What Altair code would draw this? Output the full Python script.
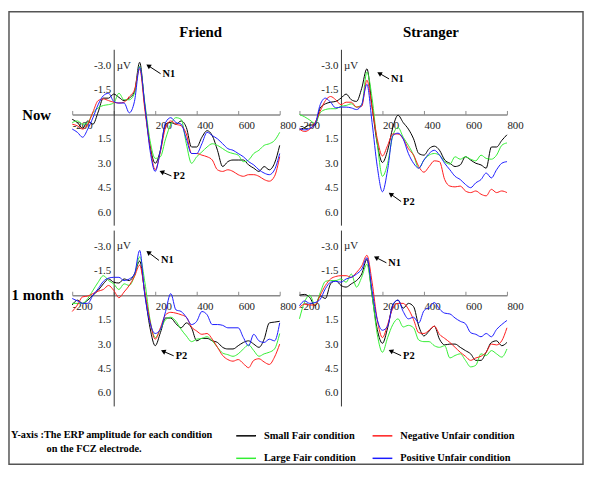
import math
import altair as alt
import pandas as pd

# ---------------- data ----------------
TIMES = list(range(-200, 801, 25))  # ms, 41 samples

# legend is laid out column by column: first column Small/Large Fair, second Negative/Positive Unfair
CONDITIONS = ["Small Fair condition", "Large Fair condition",
              "Negative Unfair condition", "Positive Unfair condition"]
COLORS = ["#000000", "#33ee33", "#ff1a1a", "#1a1aff"]

RELATIONS = ["Friend", "Stranger"]
SESSIONS = ["Now", "1 month"]

X_TICKS = [-200, 200, 400, 600, 800]
X_TICK_MARKS = [-200, 0, 200, 400, 600, 800]
Y_TICKS = [-3.0, -1.5, 1.5, 3.0, 4.5, 6.0]
UNIT = "µV"
CAPTION = ["Y-axis :The ERP amplitude for each condition", "on the FCZ electrode."]

# Friend / Now
FN_SMALL_FAIR = [0.3, 0.5, 0.85, 0.4, 0.6, -0.15, -1.0, -1.0, -1.25, -1.05, -0.85, -1.0, -1.4, -3.2, -0.5, 1.9, 3.0, 2.2, 0.6, 0.5, 0.6, 0.4, 0.8, 2.0, 2.0, 1.4, 1.0, 1.3, 2.2, 3.2, 2.9, 2.8, 2.8, 2.8, 3.1, 3.3, 3.5, 3.2, 3.4, 3.0, 1.9]
FN_NEGATIVE_UNFAIR = [0.6, 0.7, 0.9, 0.6, -0.15, -0.85, -0.95, -0.85, -0.75, -0.7, -0.75, -1.1, -1.5, -2.8, -0.3, 2.0, 3.4, 2.3, 0.8, 0.4, 0.6, 0.7, 1.2, 2.4, 2.4, 2.5, 2.6, 2.8, 3.4, 3.5, 3.4, 3.5, 3.7, 3.8, 3.7, 3.7, 3.8, 4.0, 4.1, 3.8, 2.6]
FN_LARGE_FAIR = [0.5, 0.4, 0.6, 0.5, -0.1, -0.4, -0.55, -0.6, -0.7, -1.3, -0.9, -0.9, -1.3, -2.95, -0.7, 1.6, 2.7, 2.6, 1.5, 0.6, 0.2, 0.3, 1.8, 3.0, 2.6, 2.3, 2.0, 1.8, 1.9, 2.1, 2.3, 2.4, 2.5, 2.9, 2.8, 2.4, 2.2, 1.9, 1.8, 1.6, 1.1]
FN_POSITIVE_UNFAIR = [0.9, 1.1, 1.4, 0.9, 0.2, -0.6, -1.15, -1.3, -0.8, -0.7, -0.7, -0.1, -0.8, -2.9, -0.6, 2.2, 3.5, 2.2, 0.5, 0.2, 0.5, 0.6, 1.5, 2.4, 2.4, 1.8, 1.1, 1.3, 1.5, 1.8, 2.1, 2.2, 2.4, 2.6, 2.9, 3.1, 3.4, 3.6, 3.7, 3.4, 2.4]

# Stranger / Now
SN_SMALL_FAIR = [0.95, 0.8, 0.65, 0.65, -0.4, -0.65, -0.75, -0.8, -1.0, -1.25, -0.9, -0.8, -1.6, -2.8, -0.5, 1.8, 2.95, 2.2, 0.8, 0.05, 0.5, 0.9, 1.5, 2.4, 2.5, 2.1, 1.95, 2.2, 2.8, 3.0, 3.2, 3.1, 2.6, 2.8, 3.0, 3.1, 3.3, 2.0, 2.0, 1.6, 1.25]
SN_NEGATIVE_UNFAIR = [0.9, 1.05, 0.9, 0.5, -0.2, -0.85, -1.1, -0.9, -0.6, -0.75, -0.75, -0.45, -0.5, -2.1, -0.4, 1.5, 2.55, 1.9, 1.2, 1.2, 1.5, 2.1, 2.5, 3.2, 3.55, 3.2, 2.85, 2.9, 4.0, 4.4, 4.45, 4.4, 4.7, 4.8, 4.7, 4.9, 5.0, 4.6, 4.8, 4.7, 4.8]
SN_LARGE_FAIR = [0.0, 0.15, 0.35, 0.55, -0.1, -0.3, -0.35, -0.35, -0.5, -0.55, -0.65, -0.45, -0.6, -2.6, -1.0, 1.8, 3.8, 3.0, 1.3, 0.8, 1.4, 1.9, 2.5, 3.3, 2.8, 2.5, 2.4, 2.5, 2.9, 3.05, 2.6, 2.75, 2.6, 2.75, 2.85, 2.5, 2.7, 2.75, 2.5, 1.9, 1.75]
SN_POSITIVE_UNFAIR = [0.85, 0.95, 0.85, 0.6, -0.6, -1.0, -0.75, -0.4, -0.45, -0.45, -0.4, -0.3, -0.6, -1.85, 0.5, 3.2, 4.75, 3.4, 1.3, 1.15, 1.5, 2.4, 3.0, 3.3, 2.8, 2.4, 2.2, 2.5, 3.0, 3.4, 3.8, 4.0, 4.3, 4.5, 4.2, 4.0, 3.6, 3.9, 3.4, 3.0, 2.9]

# Friend / 1 month
FM_SMALL_FAIR = [0.6, 0.3, 0.5, 0.3, 0.0, -0.3, -0.7, -1.0, -0.8, -0.75, -1.0, -0.9, -1.3, -2.1, -0.1, 2.0, 3.1, 2.3, 1.4, 1.4, 1.75, 2.0, 1.7, 2.0, 2.8, 2.65, 2.65, 2.8, 2.9, 3.2, 3.3, 3.3, 3.1, 2.9, 2.8, 3.0, 3.2, 2.7, 1.7, 1.65, 1.6]
FM_NEGATIVE_UNFAIR = [1.0, 0.6, 0.1, 0.05, -0.1, -0.25, -0.35, -0.6, -0.3, 0.15, -0.2, -0.6, -1.15, -1.85, -0.2, 1.6, 2.7, 2.0, 1.2, 1.05, 1.1, 1.2, 1.35, 1.95, 2.2, 2.4, 2.35, 2.7, 3.2, 3.7, 3.95, 4.05, 3.95, 4.2, 4.45, 4.0, 3.9, 4.1, 4.25, 3.8, 3.0]
FM_LARGE_FAIR = [0.5, 0.5, 0.5, 0.2, -0.3, -0.8, -1.2, -0.9, -0.7, -0.35, -0.7, -0.6, -1.2, -2.35, -0.8, 1.5, 2.6, 2.1, 1.5, 1.35, 1.6, 2.1, 2.5, 2.85, 2.7, 2.65, 2.55, 2.8, 3.2, 3.55, 3.65, 3.75, 3.6, 3.3, 3.05, 3.4, 3.75, 3.6, 3.5, 3.3, 2.35]
FM_POSITIVE_UNFAIR = [0.2, 0.35, 0.5, 0.5, 0.0, -0.4, -0.85, -1.05, -1.1, -1.1, -0.9, -1.0, -1.3, -2.75, 0.0, 1.7, 2.35, 2.1, 1.0, -0.1, 0.9, 1.0, 1.35, 1.8, 1.6, 1.0, 1.2, 1.8, 1.8, 1.85, 2.0, 2.0, 2.0, 2.6, 3.1, 2.4, 2.8, 2.9, 2.7, 2.8, 1.7]

# Stranger / 1 month
SM_SMALL_FAIR = [0.0, -0.05, 0.15, 0.65, 0.05, 0.2, -0.7, -0.9, -0.6, -0.5, -0.7, -0.9, -1.3, -2.2, 0.0, 2.1, 2.95, 2.0, 0.6, 0.3, 0.8, 0.5, 0.7, 1.9, 2.5, 2.2, 1.9, 2.7, 3.05, 3.0, 3.0, 3.2, 3.4, 3.6, 4.0, 4.0, 3.5, 2.9, 2.8, 3.1, 2.9]
SM_NEGATIVE_UNFAIR = [0.75, 0.55, 0.6, 0.6, 0.0, -0.6, -1.0, -1.15, -1.2, -1.2, -1.1, -1.4, -1.8, -2.45, -0.8, 1.5, 2.6, 1.8, 0.8, 0.5, 0.5, 0.85, 1.5, 2.3, 2.35, 2.15, 1.9, 2.4, 2.65, 2.9, 3.2, 3.5, 3.75, 4.0, 3.85, 3.75, 3.5, 3.0, 3.05, 2.8, 2.0]
SM_LARGE_FAIR = [1.45, 0.4, 0.0, 0.6, -0.15, -0.85, -0.9, -0.9, -1.0, -0.8, -1.3, -0.5, -1.1, -1.9, 0.0, 2.4, 3.5, 2.6, 1.8, 1.45, 1.95, 1.85, 2.0, 2.75, 2.85, 2.85, 3.1, 3.2, 3.1, 3.85, 3.7, 3.6, 4.0, 4.4, 4.3, 3.6, 3.7, 3.4, 3.6, 3.8, 3.3]
SM_POSITIVE_UNFAIR = [0.65, 0.35, 0.5, 0.45, 0.25, -0.4, -0.8, -0.85, -0.8, -1.0, -1.1, -1.3, -1.6, -2.3, -0.3, 1.5, 2.15, 1.9, 0.6, 0.3, 1.0, 1.45, 1.35, 1.7, 0.95, 0.75, 0.45, 0.85, 1.1, 1.15, 1.4, 1.6, 1.75, 2.3, 2.4, 2.55, 2.35, 2.55, 2.1, 1.8, 1.55]

# component annotations, panel order: Friend/Now, Stranger/Now, Friend/1 month, Stranger/1 month
ANN_LABELS = ["N1", "P2"]
N1_PEAK_T = [162, 180, 162, 164]
N1_PEAK_V = [-3.03, -2.56, -2.68, -2.35]
N1_TEXT_T = [226, 232, 218, 219]
N1_TEXT_V = [-2.5, -2.18, -2.14, -1.99]
P2_PEAK_T = [226, 235, 233, 235]
P2_PEAK_V = [3.5, 4.85, 3.41, 3.39]
P2_TEXT_T = [278, 290, 289, 290]
P2_TEXT_V = [3.78, 5.35, 3.72, 3.71]

SERIES = {
    ("Friend", "Now"): {"Small Fair condition": FN_SMALL_FAIR, "Negative Unfair condition": FN_NEGATIVE_UNFAIR,
                        "Large Fair condition": FN_LARGE_FAIR, "Positive Unfair condition": FN_POSITIVE_UNFAIR},
    ("Stranger", "Now"): {"Small Fair condition": SN_SMALL_FAIR, "Negative Unfair condition": SN_NEGATIVE_UNFAIR,
                          "Large Fair condition": SN_LARGE_FAIR, "Positive Unfair condition": SN_POSITIVE_UNFAIR},
    ("Friend", "1 month"): {"Small Fair condition": FM_SMALL_FAIR, "Negative Unfair condition": FM_NEGATIVE_UNFAIR,
                            "Large Fair condition": FM_LARGE_FAIR, "Positive Unfair condition": FM_POSITIVE_UNFAIR},
    ("Stranger", "1 month"): {"Small Fair condition": SM_SMALL_FAIR, "Negative Unfair condition": SM_NEGATIVE_UNFAIR,
                              "Large Fair condition": SM_LARGE_FAIR, "Positive Unfair condition": SM_POSITIVE_UNFAIR},
}

# ---------------- layout / style ----------------
SERIF = "Liberation Serif"
W, H = 210, 178
X_DOMAIN = [-200, 800]
Y_DOMAIN = [-4.0, 6.8]
PX_T = W / (X_DOMAIN[1] - X_DOMAIN[0])
PX_V = H / (Y_DOMAIN[1] - Y_DOMAIN[0])
ZERO_Y = -Y_DOMAIN[0] * PX_V
ZERO_X = -X_DOMAIN[0] * PX_T

x_scale = alt.Scale(domain=X_DOMAIN, nice=False, zero=False)
y_scale = alt.Scale(domain=Y_DOMAIN, reverse=True, nice=False, zero=False)

x_axis = alt.Axis(
    values=X_TICKS, orient="bottom", offset=-(H - ZERO_Y), title=None, grid=False,
    ticks=False, labelAlign="left", labelBaseline="top", labelPadding=5,
    labelFlush=False, labelOverlap=False, domainColor="#8a8a8a", domainWidth=1.5,
    labelFont=SERIF, labelFontSize=11, labelColor="#222222",
    labelExpr="(datum.value < 0 ? '-' : '') + format(abs(datum.value), '.0f')",
)
x_tick_axis = alt.Axis(
    values=X_TICK_MARKS, orient="top", offset=-ZERO_Y, title=None, grid=False,
    labels=False, domain=False, ticks=True, tickSize=4, tickColor="#8a8a8a", tickWidth=1,
)
y_axis = alt.Axis(
    values=Y_TICKS, orient="left", offset=-ZERO_X, title=None, grid=False,
    ticks=False, labelPadding=3, labelOverlap=False, domainColor="#333333", domainWidth=1,
    labelFont=SERIF, labelFontSize=11, labelColor="#222222",
    labelExpr="(datum.value < 0 ? '-' : '') + format(abs(datum.value), '.1f')",
)

color_enc = alt.Color(
    "condition:N",
    scale=alt.Scale(domain=CONDITIONS, range=COLORS),
    legend=alt.Legend(
        orient="none", legendX=165, legendY=380, columns=2, title=None,
        symbolType="stroke", symbolSize=400, symbolStrokeWidth=1.5,
        labelFont=SERIF, labelFontSize=10.5, labelFontWeight="bold", labelColor="black",
        labelOffset=7, columnPadding=13, rowPadding=6,
    ),
)


def ann_frame(i):
    rows = []
    for lab, ht, hv, tt, tv in [
        (ANN_LABELS[0], N1_PEAK_T[i], N1_PEAK_V[i], N1_TEXT_T[i], N1_TEXT_V[i]),
        (ANN_LABELS[1], P2_PEAK_T[i], P2_PEAK_V[i], P2_TEXT_T[i], P2_TEXT_V[i]),
    ]:
        dxp = (ht - tt) * PX_T
        dyp = (hv - tv) * PX_V
        n = math.hypot(dxp, dyp)
        ux, uy = dxp / n, dyp / n
        ang = math.degrees(math.atan2(dxp, -dyp)) % 360
        rows.append({
            "label": lab, "tail_t": tt, "tail_v": tv,
            "head_t": ht - ux * 2.0 / PX_T, "head_v": hv - uy * 2.0 / PX_V,
            "text_t": tt, "text_v": tv, "angle": ang,
        })
    return pd.DataFrame(rows)


def panel(i, rel, ses):
    rows = []
    for cond in CONDITIONS:
        for t, v in zip(TIMES, SERIES[(rel, ses)][cond]):
            rows.append({"t": t, "v": v, "condition": cond})
    df = pd.DataFrame(rows)

    lines = alt.Chart(df).mark_line(strokeWidth=1, interpolate="monotone").encode(
        x=alt.X("t:Q", scale=x_scale, axis=x_axis),
        y=alt.Y("v:Q", scale=y_scale, axis=y_axis),
        color=color_enc,
    )
    tick_layer = alt.Chart(pd.DataFrame({"t": X_TICK_MARKS, "v": [0.0] * len(X_TICK_MARKS)})).mark_point(
        opacity=0
    ).encode(
        x=alt.X("t:Q", scale=x_scale, axis=x_tick_axis),
        y=alt.Y("v:Q", scale=y_scale, axis=None),
    )
    ann = ann_frame(i)
    arrows = alt.Chart(ann).mark_rule(color="black", strokeWidth=1).encode(
        x=alt.X("head_t:Q", scale=x_scale, axis=None),
        y=alt.Y("head_v:Q", scale=y_scale, axis=None),
        x2="tail_t:Q", y2="tail_v:Q",
    )
    heads = alt.Chart(ann).mark_point(shape="triangle", filled=True, color="black",
                                      size=30, opacity=1).encode(
        x=alt.X("head_t:Q", scale=x_scale, axis=None),
        y=alt.Y("head_v:Q", scale=y_scale, axis=None),
        angle=alt.Angle("angle:Q", scale=None),
    )
    labels = alt.Chart(ann).mark_text(align="left", baseline="middle", dx=2, font=SERIF,
                                      fontSize=10.5, fontWeight="bold", color="black").encode(
        x=alt.X("text_t:Q", scale=x_scale, axis=None),
        y=alt.Y("text_v:Q", scale=y_scale, axis=None),
        text="label:N",
    )
    unit = alt.Chart(pd.DataFrame({"t": [0], "v": [Y_TICKS[0]], "u": [UNIT]})).mark_text(
        align="left", baseline="middle", dx=3, font=SERIF, fontSize=11, color="#222222"
    ).encode(
        x=alt.X("t:Q", scale=x_scale, axis=None),
        y=alt.Y("v:Q", scale=y_scale, axis=None),
        text="u:N",
    )
    layers = [lines, tick_layer, arrows, heads, labels, unit]

    one = pd.DataFrame({"k": [0]})
    if ses == SESSIONS[0]:
        layers.append(alt.Chart(one).mark_text(text=rel, font=SERIF, fontSize=15,
                                               fontWeight="bold", align="center",
                                               baseline="middle", color="black").encode(
            x=alt.value(130 if rel == RELATIONS[0] else 133), y=alt.value(-17)))
    if rel == RELATIONS[0]:
        layers.append(alt.Chart(one).mark_text(text=ses, font=SERIF, fontSize=15,
                                               fontWeight="bold", align="center",
                                               baseline="middle", color="black").encode(
            x=alt.value(-36 if ses == SESSIONS[0] else -35),
            y=alt.value(67 if ses == SESSIONS[0] else 66)))
    if i == 0:
        layers.append(alt.Chart(one).mark_rect(filled=False, stroke="#555555",
                                               strokeWidth=1.5).encode(
            x=alt.value(-64), x2=alt.value(517), y=alt.value(-38), y2=alt.value(420)))
    if i == 2:
        layers.append(alt.Chart(one).mark_text(text=CAPTION[0], font=SERIF, fontSize=10.4,
                                               fontWeight="bold", align="left",
                                               baseline="middle", color="black").encode(
            x=alt.value(-62), y=alt.value(207)))
        layers.append(alt.Chart(one).mark_text(text=CAPTION[1], font=SERIF, fontSize=10.4,
                                               fontWeight="bold", align="left",
                                               baseline="middle", color="black").encode(
            x=alt.value(-26), y=alt.value(222)))
    return alt.layer(*layers).resolve_axis(x="independent", y="independent").properties(
        width=W, height=H)


panels = []
i = 0
for ses in SESSIONS:
    for rel in RELATIONS:
        panels.append(panel(i, rel, ses))
        i += 1

chart = alt.concat(
    *panels, columns=2, spacing={"row": 5, "column": 20}, bounds="flush"
).properties(
    padding=0, background="white"
).configure_view(
    stroke=None
)

chart.save("out.html", embed_options={"renderer": "svg", "actions": False})
